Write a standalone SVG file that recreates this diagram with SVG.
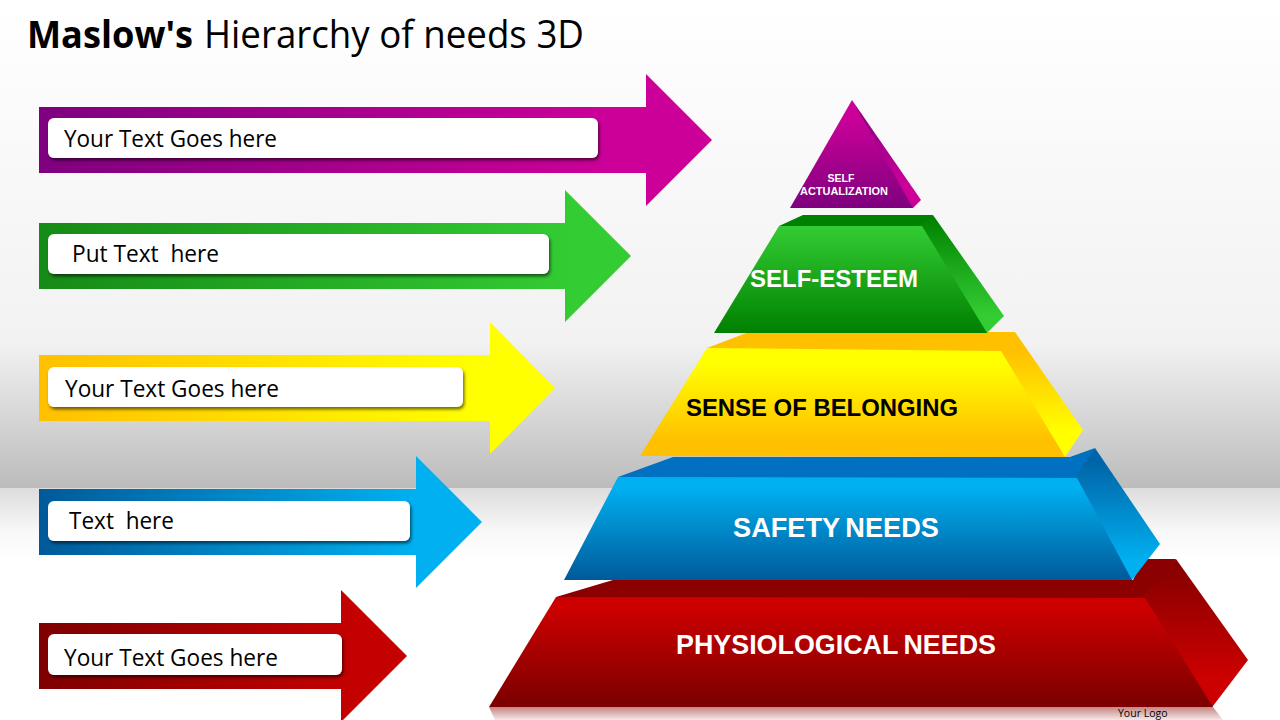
<svg xmlns="http://www.w3.org/2000/svg" width="1280" height="720" viewBox="0 0 1280 720">
<style>
.t{font-family:"Open Sans","Noto Sans",sans-serif;fill:#000}
.box{font-family:"Open Sans","Noto Sans",sans-serif;font-size:24px;fill:#000}
.l{font-family:"Liberation Sans",Arial,sans-serif;font-weight:700;fill:#fff}
.card{fill:#fff;filter:url(#sh)}
</style>
<defs>
<linearGradient id="bg1" x1="0" y1="0" x2="0" y2="1"><stop offset="0" stop-color="#fff"/><stop offset=".7" stop-color="#f2f2f2"/><stop offset="1" stop-color="#bcbcbc"/></linearGradient>
<linearGradient id="bg2" x1="0" y1="0" x2="0" y2="1"><stop offset="0" stop-color="#dcdcdc"/><stop offset=".6" stop-color="#f8f8f8"/><stop offset="1" stop-color="#fff"/></linearGradient>
<filter id="sh" x="-5%" y="-20%" width="110%" height="150%"><feDropShadow dx="1.5" dy="2.5" stdDeviation="1.8" flood-color="#000" flood-opacity=".55"/></filter>
<linearGradient id="ap" gradientUnits="userSpaceOnUse" x1="39" y1="0" x2="712" y2="0"><stop offset="0" stop-color="#7f007f"/><stop offset=".85" stop-color="#cc0099"/></linearGradient>
<linearGradient id="ag" gradientUnits="userSpaceOnUse" x1="39" y1="0" x2="631" y2="0"><stop offset="0" stop-color="#168a16"/><stop offset=".9" stop-color="#33cc33"/></linearGradient>
<linearGradient id="ay" gradientUnits="userSpaceOnUse" x1="39" y1="0" x2="555" y2="0"><stop offset="0" stop-color="#ffc000"/><stop offset=".85" stop-color="#ffff00"/></linearGradient>
<linearGradient id="ab" gradientUnits="userSpaceOnUse" x1="39" y1="0" x2="482" y2="0"><stop offset="0" stop-color="#005a9a"/><stop offset=".85" stop-color="#00b0f0"/></linearGradient>
<linearGradient id="ar" gradientUnits="userSpaceOnUse" x1="39" y1="0" x2="407" y2="0"><stop offset="0" stop-color="#7f0000"/><stop offset=".85" stop-color="#c40000"/></linearGradient>
<linearGradient id="fp" x1="0" y1="0" x2="0" y2="1"><stop offset=".15" stop-color="#cc0099"/><stop offset="1" stop-color="#7f007f"/></linearGradient>
<linearGradient id="sp" x1="0" y1="0" x2="0" y2="1"><stop offset="0" stop-color="#7f007f"/><stop offset=".8" stop-color="#cc0099"/></linearGradient>
<linearGradient id="fg" x1="0" y1="0" x2="0" y2="1"><stop offset="0" stop-color="#33cc33"/><stop offset="1" stop-color="#008000"/></linearGradient>
<linearGradient id="sg" x1="0" y1="0" x2="0" y2="1"><stop offset="0" stop-color="#008000"/><stop offset=".85" stop-color="#33cc33"/></linearGradient>
<linearGradient id="fy" x1="0" y1="0" x2="0" y2="1"><stop offset=".15" stop-color="#ffff00"/><stop offset=".85" stop-color="#ffc000"/></linearGradient>
<linearGradient id="sy" x1="0" y1="0" x2="0" y2="1"><stop offset=".15" stop-color="#ffc000"/><stop offset=".8" stop-color="#ffff00"/></linearGradient>
<linearGradient id="fb" x1="0" y1="0" x2="0" y2="1"><stop offset=".1" stop-color="#00b0f0"/><stop offset="1" stop-color="#005a9a"/></linearGradient>
<linearGradient id="sb" x1="0" y1="0" x2="0" y2="1"><stop offset=".1" stop-color="#0064a8"/><stop offset=".85" stop-color="#00b0f0"/></linearGradient>
<linearGradient id="fr" x1="0" y1="0" x2="0" y2="1"><stop offset=".1" stop-color="#cc0000"/><stop offset=".95" stop-color="#7f0000"/></linearGradient>
<linearGradient id="sr" x1="0" y1="0" x2="0" y2="1"><stop offset=".1" stop-color="#8b0000"/><stop offset=".8" stop-color="#cc0000"/></linearGradient>
<linearGradient id="rf" x1="0" y1="0" x2="0" y2="1"><stop offset="0" stop-color="#c58585"/><stop offset="1" stop-color="#f6e8e8"/></linearGradient>
</defs>
<rect width="1280" height="488" fill="url(#bg1)"/>
<rect y="488" width="1280" height="72" fill="url(#bg2)"/>
<rect y="560" width="1280" height="160" fill="#fff"/>
<text class="t" y="48" font-size="38" x="27" font-weight="700" textLength="166" lengthAdjust="spacingAndGlyphs">Maslow's</text>
<text class="t" y="48" font-size="38" x="204" textLength="380" lengthAdjust="spacingAndGlyphs">Hierarchy of needs 3D</text>
<g id="connectors">
<polygon fill="url(#ap)" points="39,107 646,107 646,74 712,140 646,206 646,173 39,173"/>
<polygon fill="url(#ag)" points="39,223 565,223 565,190 631,256 565,322 565,289 39,289"/>
<polygon fill="url(#ay)" points="39,355 490,355 490,322 555,388 490,454 490,421 39,421"/>
<polygon fill="url(#ab)" points="39,489 416,489 416,456 482,522 416,588 416,555 39,555"/>
<polygon fill="url(#ar)" points="39,623 341,623 341,590 407,656 341,722 341,689 39,689"/>
</g>
<g id="label-1"><rect class="card" x="48" y="118" width="550" height="40" rx="6"/><text class="box" x="64" y="147" textLength="213" lengthAdjust="spacingAndGlyphs">Your Text Goes here</text></g>
<g id="label-2"><rect class="card" x="48" y="234" width="501" height="40" rx="6"/><text class="box" x="72" y="262" textLength="147" lengthAdjust="spacingAndGlyphs" xml:space="preserve">Put Text  here</text></g>
<g id="label-3"><rect class="card" x="48" y="367" width="415" height="40" rx="6"/><text class="box" x="65" y="397" textLength="214" lengthAdjust="spacingAndGlyphs">Your Text Goes here</text></g>
<g id="label-4"><rect class="card" x="48" y="501" width="362" height="40" rx="6"/><text class="box" x="69" y="529" textLength="105" lengthAdjust="spacingAndGlyphs" xml:space="preserve">Text  here</text></g>
<g id="label-5"><rect class="card" x="48" y="634" width="294" height="41" rx="6"/><text class="box" x="64" y="666" textLength="214" lengthAdjust="spacingAndGlyphs">Your Text Goes here</text></g>
<g id="tier-physiological">
<polygon fill="url(#rf)" points="489,707 1213,707 1223,720 495,720"/>
<polygon fill="#8b0000" points="556,597 613,580 1133,580 1143,559 1176,559 1145,602 556,602"/>
<polygon fill="url(#sr)" points="1142,598 1176,559 1248,660 1213,706 1208,706"/>
<polygon fill="url(#fr)" points="556,597 1145,598 1213,707 489,707"/>
<text class="l" x="676" y="654" font-size="28" word-spacing="-2" textLength="320" lengthAdjust="spacingAndGlyphs">PHYSIOLOGICAL NEEDS</text>
</g>
<g id="tier-safety">
<polygon fill="#0070c0" points="618,477 673,457 1070,457 1095,448 1077,481 619,481"/>
<polygon fill="url(#sb)" points="1074,478 1095,448 1160,544 1132,580 1127,580"/>
<polygon fill="url(#fb)" points="618,477 1077,478 1132,580 564,580"/>
<text class="l" x="733" y="537" font-size="28" word-spacing="-2" textLength="206" lengthAdjust="spacingAndGlyphs">SAFETY NEEDS</text>
</g>
<g id="tier-belonging">
<polygon fill="#ffc000" points="707,348 749,332 1015,332 1001,354 708,351"/>
<polygon fill="url(#sy)" points="998,351 1015,332 1083,430 1065,457 1060,457"/>
<polygon fill="url(#fy)" points="707,348 1001,351 1065,457 640,456"/>
<text class="l" x="686" y="416" font-size="24" style="fill:#000" textLength="272" lengthAdjust="spacingAndGlyphs">SENSE OF BELONGING</text>
</g>
<g id="tier-esteem">
<polygon fill="#008000" points="779,226 803,215 933,215 922,229 780,229"/>
<polygon fill="url(#sg)" points="919,226 933,215 1004,316 987,333 982,333"/>
<polygon fill="url(#fg)" points="779,226 922,226 987,333 714,333"/>
<text class="l" x="750" y="287" font-size="24" textLength="168" lengthAdjust="spacingAndGlyphs">SELF-ESTEEM</text>
</g>
<g id="tier-actualization">
<polygon fill="url(#sp)" points="852,100 921,200 913,208 905,208"/>
<polygon fill="url(#fp)" points="852,100 913,208 790,208"/>
<text class="l" x="841" y="182" font-size="10.5" text-anchor="middle">SELF</text>
<text class="l" x="844" y="195" font-size="10.5" text-anchor="middle" textLength="88" lengthAdjust="spacingAndGlyphs">ACTUALIZATION</text>
</g>
<text id="logo" x="1118" y="716.5" font-family="Open Sans, sans-serif" font-size="10.5" fill="#000">Your Logo</text>
</svg>
